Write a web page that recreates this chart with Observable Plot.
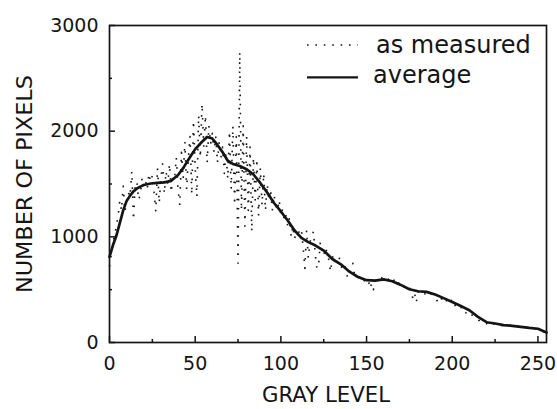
<!DOCTYPE html>
<html><head><meta charset="utf-8">
<script src="https://cdn.jsdelivr.net/npm/d3@7"></script>
<script src="https://cdn.jsdelivr.net/npm/@observablehq/plot@0.6"></script>
<style>
body{margin:0;background:#fff}
#chart{position:relative;width:557px;height:409px}
#legend{position:absolute;left:300px;top:30px}
</style>
</head><body><div id="chart"></div>
<script>
// measured histogram, one value per gray level 0..255
const measured = [
 720, 830, 950,1020,1100,1200,1340,1250,1480,1240,
1320,1420,1380,1620,1160,1500,1520,1350,1400,1560,
1480,1530,1450,1600,1520,1580,1420,1240,1650,1320,
1560,1690,1410,1620,1500,1690,1420,1580,1560,1750,
1450,1300,1800,1550,1900,1450,1750,1950,1400,2100,
1650,1380,2150,1750,2260,1850,2150,1700,2050,1880,
1980,1800,1950,1700,1900,1750,1850,1600,1800,1550,
2000,1450,2050,1300,1950, 750,2750,1250,2050,1100,
1950,1250,1850,1050,1750,1350,1700,1200,1650,1300,
1600,1250,1500,1350,1450,1250,1400,1300,1250,1350,
1200,1260,1150,1200,1100,1180,1000,1100, 980,1060,
1000,1080,1060, 900, 700,1060, 800, 950,1000,1050,
 850, 700, 730, 950, 880, 820, 900, 850, 780, 670,
 800, 830, 760, 780, 810, 720, 700, 740, 680, 610,
 660, 700, 750, 640, 620, 610, 620, 580, 600, 580,
 590, 600, 510, 560, 500, 580, 600, 590, 620, 610,
 600, 605, 620, 590, 570, 560, 590, 555, 540, 570,
 530, 540, 520, 510, 500, 520, 490, 420, 470, 380,
 480, 470, 490, 470, 460, 480, 470, 450, 460, 440,
 430, 400, 375, 420, 410, 430, 390, 400, 420, 430,
 360, 375, 340, 350, 330, 340, 300, 310, 280, 300,
 290, 270, 250, 245, 230, 225, 200, 195, 180, 175,
 180, 160, 150, 165, 175, 180, 170, 165, 160, 160,
 170, 165, 155, 160, 165, 155, 145, 150, 160, 145,
 150, 140, 135, 140, 145, 140, 135, 140, 130, 125,
 125, 115, 110, 105,  95,  85
];
// smoothed (average) curve
const avgLevel = [0,2,4,6,8,10,12,14,16,18,20,24,28,32,36,40,43,46,50,54,57,60,63,66,69,72,76,80,84,88,92,96,100,104,108,112,116,120,125,130,135,140,145,150,155,160,165,170,175,180,185,190,195,200,205,210,215,220,225,230,235,240,245,250,255];
const avgCount = [810,920,1010,1130,1250,1340,1390,1430,1457,1475,1490,1505,1510,1515,1530,1585,1650,1730,1830,1900,1945,1930,1870,1800,1720,1690,1670,1640,1590,1510,1420,1320,1240,1155,1060,990,950,920,870,790,740,670,620,590,585,598,580,545,504,485,479,454,420,384,345,305,243,192,180,164,158,148,138,130,95];

const xTicks = [0,50,100,150,200,250];
const xMinor = [25,75,125,175,225];
const yTicks = [0,1000,2000,3000];
const yMinor = [500,1500,2500];
const xTitle = "GRAY LEVEL";
const yTitle = "NUMBER OF PIXELS";
const legendLabels = ["as measured","average"];

const measuredData = measured.map((v,i)=>({level:i,count:v}));
const avgData = avgLevel.map((l,i)=>({level:l,count:avgCount[i]}));

const W=557,H=409,mL=109,mR=11,mT=25,mB=67;
const fw=W-mL-mR, fh=H-mT-mB;
const ink="#141414";

const svg = Plot.plot({
  width:W,height:H,marginLeft:mL,marginRight:mR,marginTop:mT,marginBottom:mB,
  style:{fontFamily:"DejaVu Sans",fontSize:"19px",background:"#fff",color:ink},
  x:{domain:[0,255]},
  y:{domain:[0,3000]},
  marks:[
    Plot.line(measuredData,{x:"level",y:"count",stroke:ink,strokeWidth:1.6,strokeDasharray:"1.6,7.5",strokeLinecap:"butt"}),
    Plot.line(avgData,{x:"level",y:"count",stroke:ink,strokeWidth:2.7,strokeLinejoin:"round"}),
    Plot.tickX(xTicks,{x:d=>d,insetTop:fh-6,stroke:ink,strokeWidth:1.5}),
    Plot.tickX(xMinor,{x:d=>d,insetTop:fh-3,stroke:ink,strokeWidth:1.5}),
    Plot.tickY(yTicks,{y:d=>d,insetRight:fw-6,stroke:ink,strokeWidth:1.5}),
    Plot.tickY(yMinor,{y:d=>d,insetRight:fw-3,stroke:ink,strokeWidth:1.5}),
    Plot.axisX({ticks:xTicks,tickSize:0,tickPadding:14,tickFormat:d=>String(d),label:null,fill:ink}),
    Plot.axisY({ticks:yTicks,tickSize:0,tickPadding:11,tickFormat:d=>String(d),label:null,fill:ink}),
    Plot.frame({stroke:ink,strokeWidth:1.7}),
    Plot.text([xTitle],{frameAnchor:"bottom",textAnchor:"middle",lineAnchor:"middle",dx:-2,dy:53,fontSize:21,fill:ink,className:"xtitle"}),
    Plot.text([yTitle],{frameAnchor:"left",textAnchor:"middle",lineAnchor:"middle",rotate:-90,dx:-85,dy:0,fontSize:22,fill:ink,className:"ytitle"})
  ]
});
d3.select(svg).selectAll(".xtitle text").attr("textLength",128).attr("lengthAdjust","spacingAndGlyphs");
d3.select(svg).selectAll(".ytitle text").attr("textLength",218).attr("lengthAdjust","spacingAndGlyphs");
const chart=document.getElementById("chart");
chart.appendChild(svg);

// legend overlay
const lg = d3.select(chart).append("svg").attr("id","legend").attr("width",245).attr("height",65);
lg.append("line").attr("x1",7).attr("x2",58).attr("y1",15).attr("y2",15)
  .attr("stroke",ink).attr("stroke-width",1.6).attr("stroke-dasharray","1.6,6.8");
lg.append("line").attr("x1",7).attr("x2",58).attr("y1",47.3).attr("y2",47.3)
  .attr("stroke",ink).attr("stroke-width",2.2);
lg.append("text").attr("x",76).attr("y",23.3).text(legendLabels[0])
  .attr("font-family","DejaVu Sans").attr("font-size",24).attr("fill",ink);
lg.append("text").attr("x",73).attr("y",53.3).text(legendLabels[1])
  .attr("font-family","DejaVu Sans").attr("font-size",24).attr("fill",ink);
</script>
</body></html>
